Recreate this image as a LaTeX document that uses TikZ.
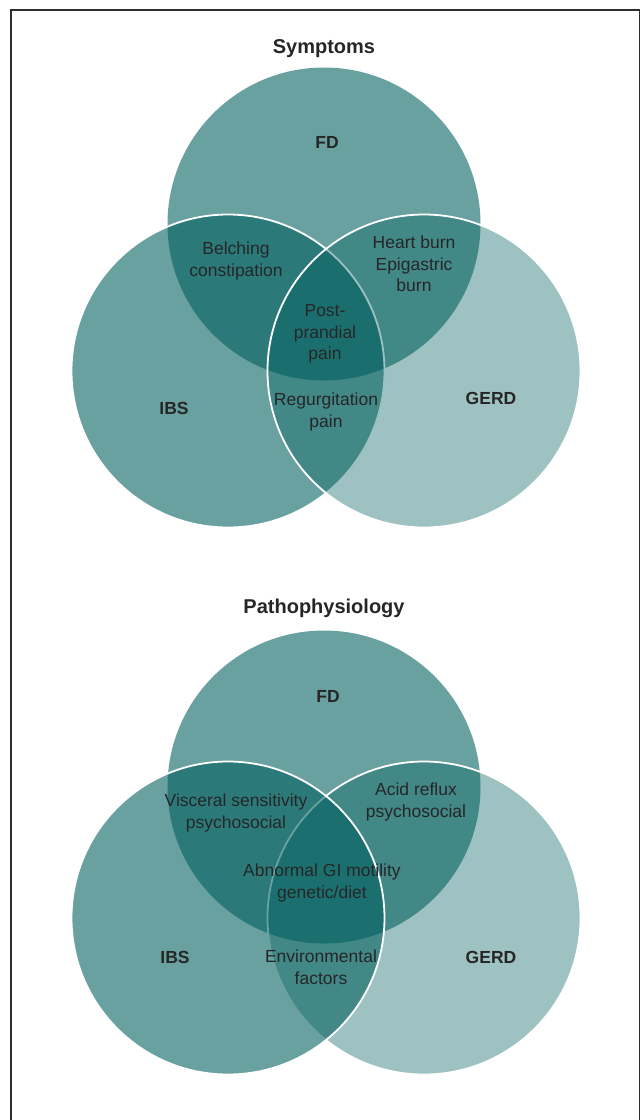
\documentclass[tikz,border=0pt]{standalone}
\usepackage{fontspec}
\setmainfont{Liberation Sans}
\definecolor{teal0}{RGB}{0,95,94}
\definecolor{txt}{RGB}{38,38,38}
\definecolor{frame}{RGB}{45,45,45}
\begin{document}
\begin{tikzpicture}[x=1pt,y=-1pt,
  venn/.style={circle, minimum size=313pt, inner sep=0pt, fill=teal0, draw=white, line width=1.8pt},
  strong/.style={venn, fill opacity=0.59},
  light/.style={venn, fill opacity=0.385},
  lbl/.style={text=txt, align=center, font=\fontsize{17.5}{21.5}\selectfont, inner sep=0pt},
  bl/.style={text=txt, font=\bfseries\fontsize{17.5}{21}\selectfont, inner sep=0pt},
  ttl/.style={text=txt, font=\bfseries\fontsize{20}{24}\selectfont, inner sep=0pt}]
\useasboundingbox (0,0) rectangle (643,1120);
% frame
\coordinate (f1) at (11,1130);
\coordinate (f2) at (11,10);
\coordinate (f3) at (639.5,10);
\coordinate (f4) at (639.5,1130);
\draw[frame, line width=1.6pt] (f1) -- (f2) -- (f3) -- (f4);

% ---------- Symptoms ----------
\node[ttl] (t1) at (324,49) {Symptoms};
\node[strong, draw=none] (fd1) at (324,224) {};
\node[strong] (ibs1) at (228,371) {};
\node[light] (gerd1) at (424,371) {};
\node[bl] (fdl1) at (327,142) {FD};
\node[bl] (ibsl1) at (174,408) {IBS};
\node[bl] (gerdl1) at (491,398) {GERD};
\node[lbl] (a1) at (236,261) {Belching\\constipation};
\node[lbl] (b1) at (414,264) {Heart burn\\Epigastric\\burn};
\node[lbl] (c1) at (325,334) {Post-\\prandial\\pain};
\node[lbl] (d1) at (326,412) {Regurgitation\\pain};

% ---------- Pathophysiology ----------
\node[ttl] (t2) at (324,608) {Pathophysiology};
\node[strong, draw=none] (fd2) at (324,787) {};
\node[light] (gerd2) at (424,918) {};
\node[strong] (ibs2) at (228,918) {};
\node[bl] (fdl2) at (328,696) {FD};
\node[bl] (ibsl2) at (175,957) {IBS};
\node[bl] (gerdl2) at (491,957) {GERD};
\node[lbl] (a2) at (236,813) {Visceral sensitivity\\psychosocial};
\node[lbl] (b2) at (416,802) {Acid reflux\\psychosocial};
\node[lbl] (c2) at (322,883) {Abnormal GI motility\\genetic/diet};
\node[lbl] (d2) at (321,967) {Environmental\\factors};
\end{tikzpicture}
\end{document}
